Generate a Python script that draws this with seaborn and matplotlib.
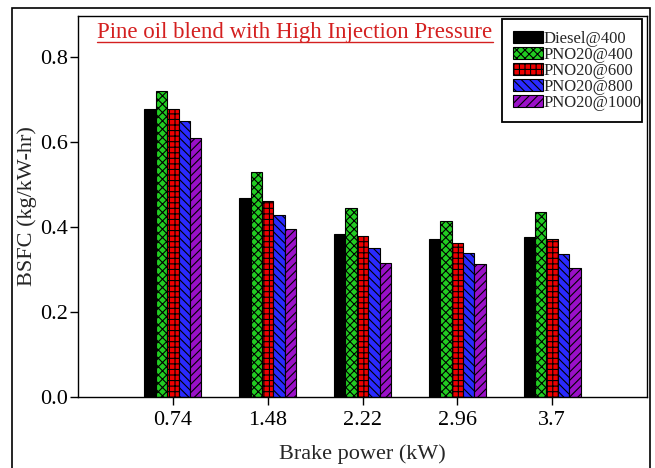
import matplotlib
matplotlib.use("Agg")
import matplotlib.pyplot as plt
import seaborn as sns
import pandas as pd
from matplotlib.patches import Rectangle
from matplotlib.lines import Line2D

categories = ["0.74", "1.48", "2.22", "2.96", "3.7"]
series = ["Diesel@400", "PNO20@400", "PNO20@600", "PNO20@800", "PNO20@1000"]
diesel400 = [0.678, 0.469, 0.383, 0.371, 0.376]
pno400 = [0.720, 0.528, 0.444, 0.413, 0.434]
pno600 = [0.678, 0.462, 0.378, 0.362, 0.371]
pno800 = [0.648, 0.427, 0.350, 0.338, 0.336]
pno1000 = [0.610, 0.394, 0.314, 0.312, 0.303]

colors = ["#000000", "#22cc22", "#ee0000", "#2a2aff", "#9a10c8"]
hatches = ["", "xxxx", "+++", "\\\\\\\\", "////"]

rows = []
for s, vals in zip(series, [diesel400, pno400, pno600, pno800, pno1000]):
    for c, v in zip(categories, vals):
        rows.append({"Brake power": c, "Fuel": s, "BSFC": v})
df = pd.DataFrame(rows)

sns.set_theme(style="ticks")
plt.rcParams["font.family"] = ["Liberation Serif", "DejaVu Serif"]
plt.rcParams["hatch.color"] = "black"
plt.rcParams["hatch.linewidth"] = 0.8

W, H = 655, 468
fig = plt.figure(figsize=(6.55, 4.68), dpi=100)
ax = fig.add_axes([78 / W, 1 - 397 / H, (647 - 78) / W, (397 - 16) / H])

sns.barplot(data=df, x="Brake power", y="BSFC", hue="Fuel", order=categories,
            hue_order=series, palette=colors, width=0.6, ax=ax,
            edgecolor="black", linewidth=0.8, saturation=1)

for cont, h in zip(ax.containers, hatches):
    for p in cont.patches:
        p.set_hatch(h)

ax.set_xlim(-1.0, 5.0)
ax.set_ylim(0, 0.896)
ax.set_yticks([0.0, 0.2, 0.4, 0.6, 0.8])
ax.set_yticklabels(["0.0", "0.2", "0.4", "0.6", "0.8"])
ax.tick_params(axis="both", direction="out", length=6, width=1, labelsize=16, colors="black")
ax.tick_params(axis="y", pad=1)
ax.tick_params(axis="x", pad=4)
for sp in ax.spines.values():
    sp.set_visible(True)
    sp.set_color("black")
    sp.set_linewidth(1.0)
ax.set_xlabel("Brake power (kW)", fontsize=16)
ax.set_ylabel("BSFC (kg/kW-hr)", fontsize=16)
ax.yaxis.set_label_coords((37 - 78) / 569, 0.5)
ax.xaxis.set_label_coords(0.5, -(444 - 397) / 381)

handles = []
for c, h in zip(colors, hatches):
    handles.append(Rectangle((0, 0), 1, 1, facecolor=c, edgecolor="black", hatch=h, linewidth=0.8))
leg = ax.legend(handles, series, loc="upper left",
                bbox_to_anchor=(513 / W, 1 - 31 / H), bbox_transform=fig.transFigure,
                fontsize=12, frameon=False,
                handlelength=1.8, handleheight=0.75, handletextpad=0.05,
                labelspacing=0.0, borderpad=0.0, borderaxespad=0.0)
fig.add_artist(Rectangle((502 / W, 1 - 122 / H), (642 - 502) / W, (122 - 19) / H,
                         transform=fig.transFigure, fill=False, edgecolor="black", lw=1.3))

t = fig.text(295 / W, 1 - 38 / H, "Pine oil blend with High Injection Pressure",
             ha="center", va="baseline", fontsize=16.5, color="#d42020")
fig.canvas.draw()
bb = t.get_window_extent(renderer=fig.canvas.get_renderer())
inv = fig.transFigure.inverted()
(x0, y0), (x1, y1) = inv.transform([[bb.x0, bb.y0], [bb.x1, bb.y1]])
uy = 1 - 42 / H
fig.add_artist(Line2D([x0, x1], [uy, uy], transform=fig.transFigure, color="#d42020", lw=1.0))

fig.add_artist(Rectangle((12 / W, -0.02), (650 - 12) / W, (H - 8) / H + 0.02,
                         transform=fig.transFigure, fill=False, edgecolor="black", lw=1.2))

fig.savefig("out.png", dpi=100)
